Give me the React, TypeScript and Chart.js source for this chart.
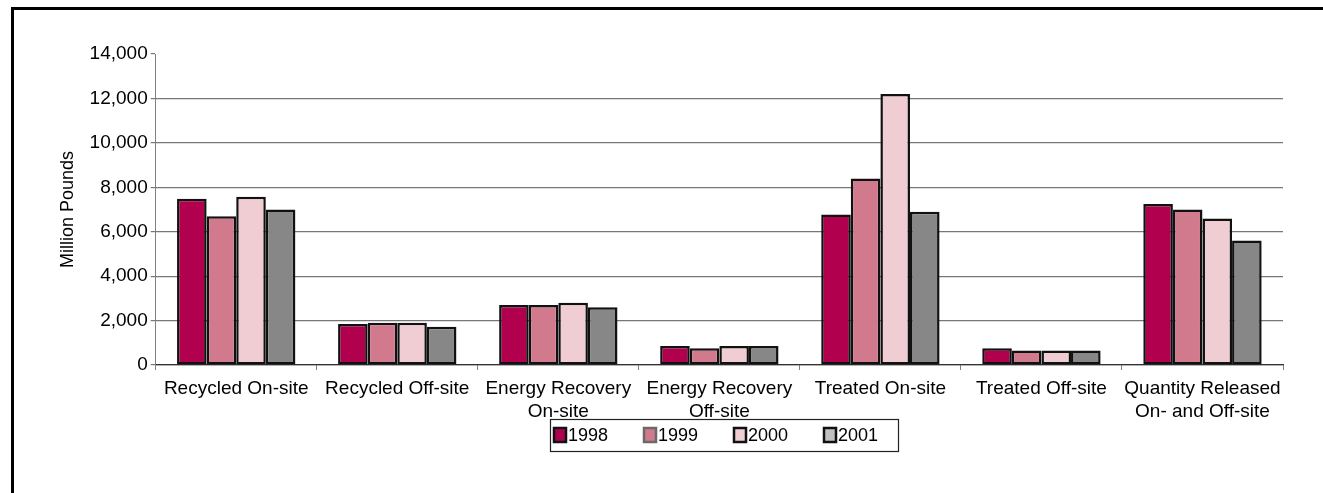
import React, { useEffect, useRef } from 'react';
import { Chart, registerables } from 'chart.js';

Chart.register(...registerables);

const categories: (string | string[])[] = [
  'Recycled On-site',
  'Recycled Off-site',
  ['Energy Recovery', 'On-site'],
  ['Energy Recovery', 'Off-site'],
  'Treated On-site',
  'Treated Off-site',
  ['Quantity Released', 'On- and Off-site'],
];

const seriesNames = ['1998', '1999', '2000', '2001'];
const values1998 = [7480, 1850, 2700, 850, 6780, 750, 7250];
const values1999 = [6700, 1900, 2700, 750, 8400, 650, 7000];
const values2000 = [7570, 1900, 2800, 850, 12200, 650, 6600];
const values2001 = [7000, 1720, 2600, 850, 6900, 650, 5600];

const yMin = 0;
const yMax = 14000;
const yStep = 2000;
const yTitle = 'Million Pounds';

const barColors = ['#B0004E', '#D17A8E', '#EFCDD2', '#878787'];
const legendSwatchColors = ['#B0004E', '#D17A8E', '#EFCDD2', '#C0C0C0'];
const legendSwatchBorders = ['#111111', '#6a6a6a', '#111111', '#111111'];

const FONT = "'Liberation Sans', Arial, sans-serif";

// Boxed legend drawn under the plot, entries taken from the chart's datasets
const boxedLegendPlugin = {
  id: 'boxedLegend',
  afterDraw(chart: any) {
    const ctx = chart.ctx;
    const ds = chart.data.datasets;
    const entryW = 90;
    const padL = 4;
    const padR = 30;
    const boxW = padL + entryW * ds.length + padR - 46;
    const cx = (chart.chartArea.left + chart.chartArea.right) / 2 + 5;
    const left = Math.round(cx - boxW / 2);
    const cy = 435;
    const top = 419;
    const bottom = 451;
    ctx.save();
    ctx.fillStyle = '#fff';
    ctx.fillRect(left, top, boxW, bottom - top);
    ctx.strokeStyle = '#222';
    ctx.lineWidth = 1.2;
    ctx.strokeRect(left + 0.5, top + 0.5, boxW, bottom - top);
    ctx.font = `18px ${FONT}`;
    ctx.textBaseline = 'middle';
    ctx.textAlign = 'left';
    ds.forEach((d: any, i: number) => {
      const x = left + padL + i * entryW;
      ctx.fillStyle = legendSwatchColors[i];
      ctx.fillRect(x, cy - 7, 12, 14);
      ctx.strokeStyle = legendSwatchBorders[i];
      ctx.lineWidth = 2.5;
      ctx.strokeRect(x, cy - 7, 12, 14);
      ctx.fillStyle = '#000';
      ctx.fillText(d.label, x + 14, cy + 1);
    });
    ctx.restore();
  },
};

export default function App() {
  const ref = useRef<HTMLCanvasElement>(null);

  useEffect(() => {
    if (!ref.current) return;
    const allValues = [values1998, values1999, values2000, values2001];
    const chart = new Chart(ref.current, {
      type: 'bar',
      data: {
        labels: categories,
        datasets: seriesNames.map((name, i) => ({
          label: name,
          data: allValues[i],
          backgroundColor: barColors[i],
          borderColor: '#111',
          borderWidth: 2.5,
          borderSkipped: false,
          categoryPercentage: 0.735,
          barPercentage: 1.0,
        })),
      },
      options: {
        responsive: false,
        animation: false,
        devicePixelRatio: 1,
        layout: { padding: { left: 53, top: 54, right: 40, bottom: 68 } },
        plugins: {
          tooltip: { enabled: false },
          legend: { display: false },
        },
        scales: {
          x: {
            afterFit: (scale: any) => {
              scale.height = 60;
            },
            grid: {
              display: true,
              drawOnChartArea: false,
              drawTicks: true,
              tickLength: 5,
              color: '#808080',
              offset: true,
            },
            border: { display: true, color: '#333', width: 1.2 },
            ticks: {
              color: '#000',
              padding: 7,
              maxRotation: 0,
              autoSkip: false,
              font: { family: FONT, size: 19, lineHeight: 1.22 },
            },
          },
          y: {
            min: yMin,
            max: yMax,
            afterFit: (scale: any) => {
              scale.width = 155.7 - 53;
            },
            grid: {
              color: (ctx: any) => (ctx.tick && ctx.tick.value === yMax ? 'rgba(0,0,0,0)' : '#777'),
              tickColor: '#777',
              lineWidth: 1.2,
              drawTicks: true,
              tickLength: 5,
            },
            border: { display: true, color: '#808080', width: 1 },
            ticks: {
              stepSize: yStep,
              color: '#000',
              padding: 3,
              font: { family: FONT, size: 19 },
              callback: (v: any) => Number(v).toLocaleString('en-US'),
            },
            title: {
              display: true,
              text: yTitle,
              color: '#000',
              font: { family: FONT, size: 18 },
            },
          },
        },
      },
      plugins: [boxedLegendPlugin],
    });
    return () => chart.destroy();
  }, []);

  return (
    <div style={{ position: 'absolute', left: 0, top: 0, width: 1323, height: 493, overflow: 'hidden', background: '#fff' }}>
      <div
        style={{
          position: 'absolute',
          left: 11,
          top: 7,
          width: 1400,
          height: 600,
          borderLeft: '3px solid #000',
          borderTop: '3px solid #000',
          boxSizing: 'border-box',
        }}
      />
      <canvas
        ref={ref}
        width={1323}
        height={493}
        style={{ position: 'absolute', left: 0, top: 0, width: 1323, height: 493 }}
      />
    </div>
  );
}
